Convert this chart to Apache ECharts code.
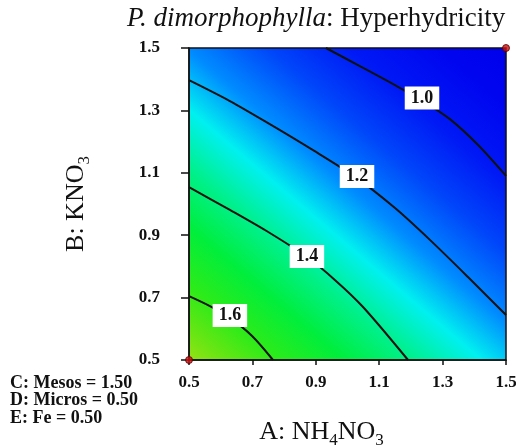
<!DOCTYPE html>
<html><head><meta charset="utf-8">
<script src="https://cdn.jsdelivr.net/npm/echarts@6/dist/echarts.min.js"></script>
<style>html,body{margin:0;padding:0;background:#fff}#c{width:516px;height:446px}</style>
</head><body><div id="c"></div>
<script>
const tickValues = [0.5, 0.7, 0.9, 1.1, 1.3, 1.5];
const contourLevels = ['1.0', '1.2', '1.4', '1.6'];
const contour10 = [[0.932, 1.5], [1.039, 1.442], [1.150, 1.381], [1.238, 1.330], [1.323, 1.272], [1.412, 1.189], [1.5, 1.090]];
const contour12 = [[0.5, 1.397], [0.629, 1.330], [0.755, 1.256], [0.881, 1.179], [1.024, 1.087], [1.150, 0.987], [1.260, 0.885], [1.380, 0.766], [1.5, 0.644]];
const contour14 = [[0.5, 1.054], [0.629, 0.981], [0.755, 0.907], [0.872, 0.830], [0.961, 0.756], [1.049, 0.670], [1.191, 0.5]];
const contour16 = [[0.5, 0.705], [0.566, 0.673], [0.629, 0.635], [0.699, 0.577], [0.765, 0.5]];
const labelA = [1.235, 1.030, 0.872, 0.629];
const labelB = [1.340, 1.088, 0.832, 0.643];
const designA = [0.5, 1.5];
const designB = [0.5, 1.5];
const factorNotes = ['C: Mesos = 1.50', 'D: Micros = 0.50', 'E: Fe = 0.50'];

const FF = '"Liberation Serif", "Times New Roman", serif';
const INK = '#111';
const chart = echarts.init(document.getElementById('c'), null, {renderer: 'canvas'});

const surfaceFill = {
  type: 'linear', x: 0, y: 1, x2: 0.908, y2: -0.079,
  colorStops: [
    {offset: 0.00, color: 'rgb(150,225,20)'},
    {offset: 0.06, color: 'rgb(100,230,20)'},
    {offset: 0.13, color: 'rgb(45,235,25)'},
    {offset: 0.23, color: 'rgb(0,238,60)'},
    {offset: 0.33, color: 'rgb(0,240,140)'},
    {offset: 0.43, color: 'rgb(0,240,240)'},
    {offset: 0.53, color: 'rgb(0,140,255)'},
    {offset: 0.65, color: 'rgb(0,70,250)'},
    {offset: 0.77, color: 'rgb(0,25,245)'},
    {offset: 0.90, color: 'rgb(0,5,240)'},
    {offset: 1.00, color: 'rgb(0,0,235)'}
  ]
};

const contours = [contour10, contour12, contour14, contour16];
const lineSeries = contours.map((d, i) => ({
  type: 'line', name: contourLevels[i], data: d, smooth: 0.3, symbol: 'none',
  silent: true, z: 3,
  lineStyle: {color: INK, width: 2}
}));

const subStyle = {fontSize: 17, lineHeight: 17, verticalAlign: 'bottom', fontFamily: FF, color: INK};

const option = {
  animation: false,
  backgroundColor: '#fff',
  title: [{
    text: '{i|P. dimorphophylla}{n|: Hyperhydricity}',
    left: 127, top: 5, padding: 0,
    textStyle: {
      fontWeight: 'normal',
      rich: {
        i: {fontFamily: FF, fontSize: 27, fontStyle: 'italic', fontWeight: 'normal', color: INK},
        n: {fontFamily: FF, fontSize: 27, fontWeight: 'normal', color: INK}
      }
    }
  }],
  graphic: [{
    type: 'text', left: 10, top: 374,
    style: {text: factorNotes.join('\n'), fontFamily: FF, fontSize: 18, fontWeight: 'bold', lineHeight: 17.5, fill: INK}
  }],
  grid: {
    left: 189, right: 10, top: 48, bottom: 86,
    show: true, backgroundColor: surfaceFill, borderColor: INK, borderWidth: 1.5,
    outerBoundsMode: 'none', containLabel: false
  },
  xAxis: {
    type: 'value', min: 0.5, max: 1.5,
    axisLine: {show: true, onZero: false, lineStyle: {color: INK, width: 1.5}},
    axisTick: {show: true, customValues: tickValues, length: 5, lineStyle: {color: INK, width: 1.5}},
    axisLabel: {customValues: tickValues, formatter: v => v.toFixed(1), margin: 14,
      fontFamily: FF, fontSize: 17, fontWeight: 'bold', color: INK},
    splitLine: {show: false},
    name: 'A: NH{s|4}NO{s|3}', nameLocation: 'middle', nameGap: 56,
    nameTextStyle: {fontFamily: FF, fontSize: 26, color: INK, lineHeight: 33, padding: [0, 52, 0, 0],
      rich: {s: subStyle}}
  },
  yAxis: {
    type: 'value', min: 0.5, max: 1.5,
    axisLine: {show: true, onZero: false, lineStyle: {color: INK, width: 1.5}},
    axisTick: {show: true, customValues: tickValues, length: 8, lineStyle: {color: INK, width: 1.5}},
    axisLabel: {customValues: tickValues, formatter: v => v.toFixed(1), margin: 29,
      fontFamily: FF, fontSize: 17, fontWeight: 'bold', color: INK},
    splitLine: {show: false},
    name: 'B: KNO{s|3}', nameLocation: 'middle', nameGap: 96,
    nameTextStyle: {fontFamily: FF, fontSize: 26, color: INK, lineHeight: 33,
      rich: {s: subStyle}}
  },
  series: lineSeries.concat([
    {
      type: 'scatter', name: 'contour labels', z: 5, silent: true,
      data: labelA.map((a, i) => [a, labelB[i], contourLevels[i]]),
      symbol: 'circle', symbolSize: 1, itemStyle: {color: 'rgba(0,0,0,0)'},
      label: {show: true, position: 'inside', formatter: p => p.value[2],
        backgroundColor: '#fff', padding: [3, 6, 2, 6], opacity: 1,
        fontFamily: FF, fontSize: 18, fontWeight: 'bold', color: INK}
    },
    {
      type: 'scatter', name: 'design points', z: 6, silent: true,
      data: designA.map((a, i) => [a, designB[i]]),
      symbol: 'circle', symbolSize: 7,
      itemStyle: {color: '#cc1010', borderColor: '#500', borderWidth: 1}
    }
  ])
};
chart.setOption(option);
</script>
</body></html>
